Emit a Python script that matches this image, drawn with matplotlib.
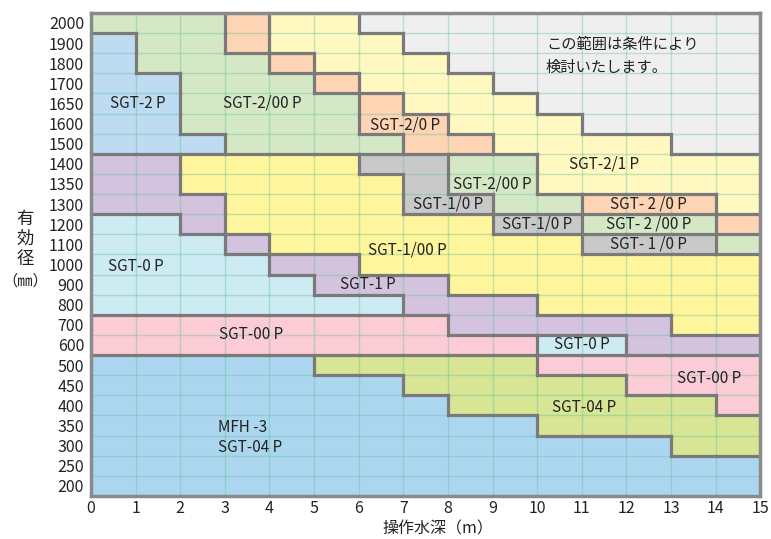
import matplotlib
matplotlib.use("Agg")
import matplotlib.pyplot as plt
from matplotlib.collections import LineCollection
from matplotlib.patches import Rectangle

plt.rcParams['font.family'] = ['Noto Sans CJK JP', 'DejaVu Sans']

# 有効径 rows, bottom to top
diameters = ["200", "250", "300", "350", "400", "450", "500", "600", "700", "800",
             "900", "1000", "1100", "1200", "1300", "1350", "1400", "1500", "1600",
             "1650", "1700", "1800", "1900", "2000"]
depths = list(range(0, 16))

# one char per 1 m column (0-15 m), rows listed from top (2000) to bottom (200)
grid_top_down = [
    "gggollxxxxxxxxx",  # 2000
    "bggolllxxxxxxxx",  # 1900
    "bgggolllxxxxxxx",  # 1800
    "bbgggolllxxxxxx",  # 1700
    "bbggggolllxxxxx",  # 1650
    "bbggggoolllxxxx",  # 1600
    "bbbggggoollllxx",  # 1500
    "ppyyyykkgglllll",  # 1400
    "ppyyyyykgglllll",  # 1350
    "pppyyyykkggoool",  # 1300
    "ccpyyyyyykkgggo",  # 1200
    "cccpyyyyyyykkkg",  # 1100
    "ccccppyyyyyyyyy",  # 1000
    "cccccpppyyyyyyy",  # 900
    "cccccccpppyyyyy",  # 800
    "rrrrrrrrpppppyy",  # 700
    "rrrrrrrrrrccppp",  # 600
    "mmmmmvvvvvrrrrr",  # 500
    "mmmmmmmvvvvvrrr",  # 450
    "mmmmmmmmvvvvvvr",  # 400
    "mmmmmmmmmmvvvvv",  # 350
    "mmmmmmmmmmmmmvv",  # 300
    "mmmmmmmmmmmmmmm",  # 250
    "mmmmmmmmmmmmmmm",  # 200
]

colors = {
    'b': '#bddcf1',  # SGT-2P
    'g': '#d5e8c5',  # SGT-2/00P
    'o': '#fdd4b4',  # SGT-2/0P
    'l': '#fff8c1',  # SGT-2/1P
    'x': '#efefef',  # 条件により検討
    'p': '#d3c3df',  # SGT-1P
    'y': '#fff59c',  # SGT-1/00P
    'k': '#c9c9c9',  # SGT-1/0P
    'c': '#cdebf3',  # SGT-0P
    'r': '#fbcbd6',  # SGT-00P
    'm': '#acd6ef',  # MFH-3 / SGT-04P
    'v': '#d7e595',  # SGT-04P
}

labels = [
    ("SGT-2 P", 1.05, 19.5, 'center'),
    ("SGT-2/00 P", 3.85, 19.5, 'center'),
    ("SGT-2/0 P", 7.05, 18.45, 'center'),
    ("SGT-2/1 P", 11.5, 16.5, 'center'),
    ("SGT-2/00 P", 9.0, 15.5, 'center'),
    ("SGT-1/0 P", 8.0, 14.5, 'center'),
    ("SGT-1/0 P", 10.0, 13.5, 'center'),
    ("SGT- 2 /0 P", 12.5, 14.5, 'center'),
    ("SGT- 2 /00 P", 12.5, 13.5, 'center'),
    ("SGT- 1 /0 P", 12.5, 12.5, 'center'),
    ("SGT-1/00 P", 7.1, 12.2, 'center'),
    ("SGT-0 P", 1.0, 11.4, 'center'),
    ("SGT-1 P", 6.2, 10.5, 'center'),
    ("SGT-00 P", 3.6, 8.0, 'center'),
    ("SGT-0 P", 11.0, 7.5, 'center'),
    ("SGT-00 P", 13.85, 5.85, 'center'),
    ("SGT-04 P", 11.05, 4.4, 'center'),
    ("MFH -3", 2.85, 3.38, 'left'),
    ("SGT-04 P", 2.85, 2.38, 'left'),
]
note = "この範囲は条件により\n検討いたします。"

grid = grid_top_down[::-1]
nrows = len(diameters)
ncols = 15

fig = plt.figure(figsize=(7.71, 5.39), dpi=100)
ax = fig.add_axes([0.118, 0.080, 0.868, 0.896])

for r in range(nrows):
    for c in range(ncols):
        ax.add_patch(Rectangle((c, r), 1, 1, facecolor=colors[grid[r][c]],
                               edgecolor='none', zorder=1))

# thin grid
for c in range(1, ncols):
    ax.axvline(c, color='#5fbf98', alpha=0.38, lw=1.0, zorder=2)
for r in range(1, nrows):
    ax.axhline(r, color='#5fbf98', alpha=0.38, lw=1.0, zorder=2)

# thick borders where the region changes
segs = []
for r in range(nrows):
    for c in range(ncols):
        if c + 1 < ncols and grid[r][c] != grid[r][c + 1]:
            segs.append([(c + 1, r), (c + 1, r + 1)])
        if r + 1 < nrows and grid[r][c] != grid[r + 1][c]:
            segs.append([(c, r + 1), (c + 1, r + 1)])
lc = LineCollection(segs, colors='#7a7a7a', linewidths=2.3, capstyle='projecting', zorder=3)
ax.add_collection(lc)

for s in ax.spines.values():
    s.set_color('#8a8a8a')
    s.set_linewidth(2.5)
    s.set_zorder(4)

for txt, x, y, ha in labels:
    ax.text(x, y, txt, ha=ha, va='center', fontsize=11, color='#222222', zorder=5)
ax.text(10.2, 21.85, note, ha='left', va='center', fontsize=11, color='#222222',
        linespacing=1.45, zorder=5)

ax.set_xlim(0, 15)
ax.set_ylim(0, nrows)
ax.set_xticks(depths)
ax.set_xticklabels([str(d) for d in depths], fontsize=11.5)
ax.set_yticks([r + 0.5 for r in range(nrows)])
ax.set_yticklabels(diameters, fontsize=11.5)
ax.tick_params(length=0, pad=5, colors='#222222')
ax.tick_params(axis='x', pad=3)

fig.text(0.568, 1 - 529 / 539, "操作水深（m）", ha='center', va='center', fontsize=11.5, color='#222222')
for ch, ypx in [("有", 219), ("効", 239), ("径", 259)]:
    fig.text(25 / 771, 1 - ypx / 539, ch, ha='center', va='center',
             fontsize=12.5, color='#222222')
fig.text(25 / 771, 1 - 281 / 539, "（㎜）", ha='center', va='center', fontsize=11, color='#222222')

fig.savefig("out.png", dpi=100)
